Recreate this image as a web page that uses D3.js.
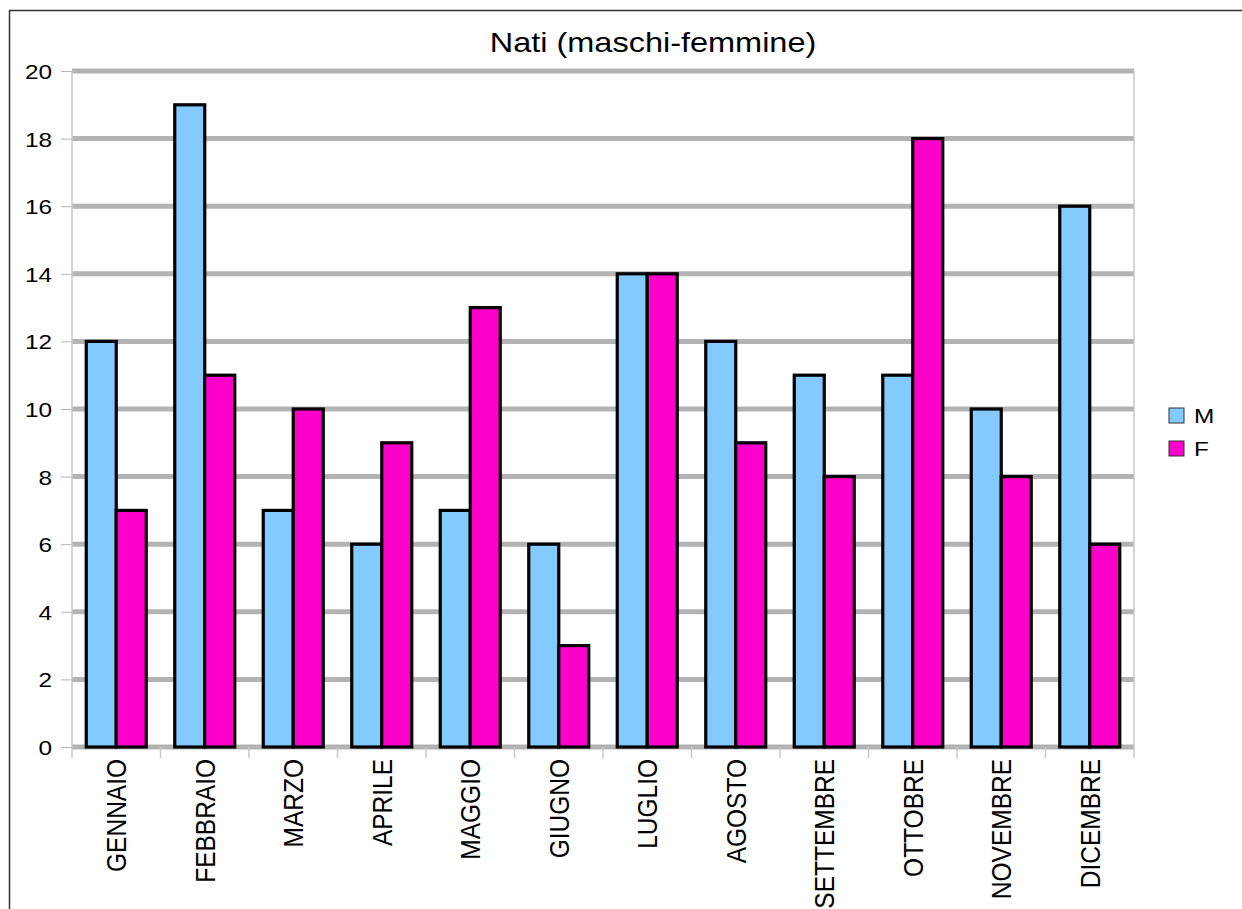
<!DOCTYPE html>
<html>
<head>
<meta charset="utf-8">
<script src="https://cdn.jsdelivr.net/npm/d3@7"></script>
<style>
  html, body { margin: 0; padding: 0; background: #fff; overflow: hidden; }
  svg { display: block; font-family: "Liberation Sans", Arial, sans-serif; }
</style>
</head>
<body>
<svg width="1242" height="909"></svg>
<script>
// dati del grafico
const mesi = ["GENNAIO", "FEBBRAIO", "MARZO", "APRILE", "MAGGIO", "GIUGNO",
              "LUGLIO", "AGOSTO", "SETTEMBRE", "OTTOBRE", "NOVEMBRE", "DICEMBRE"];
const maschi = [12, 19, 7, 6, 7, 6, 14, 12, 11, 11, 10, 16];
const femmine = [7, 11, 10, 9, 13, 3, 14, 9, 8, 18, 8, 6];
const serie = ["M", "F"];
const colori = ["#83caff", "#ff00cc"];
const ticksY = [0, 2, 4, 6, 8, 10, 12, 14, 16, 18, 20];
const titolo = "Nati (maschi-femmine)";

const sx = 1.16; // allargamento orizzontale del testo

const svg = d3.select("svg");

const area = { left: 72, right: 1134, top: 71, bottom: 747 };

// cornice esterna (solo lati sinistro e superiore visibili)
svg.append("path")
    .attr("d", "M9.5,909 L9.5,10.5 L1242,10.5")
    .attr("fill", "none")
    .attr("stroke", "#333")
    .attr("stroke-width", 1.5);

const scaleX = d3.scaleBand()
    .domain(mesi)
    .range([area.left, area.right])
    .paddingInner(0.322)
    .paddingOuter(0.161);

const scaleSub = d3.scaleBand()
    .domain(serie)
    .range([0, scaleX.bandwidth()]);

const scaleY = d3.scaleLinear()
    .domain([0, 20])
    .range([area.bottom, area.top]);

// griglia
svg.append("g")
    .selectAll("line")
    .data(ticksY)
    .enter()
    .append("line")
    .attr("x1", area.left).attr("x2", area.right)
    .attr("y1", d => scaleY(d)).attr("y2", d => scaleY(d))
    .attr("stroke", "#b3b3b3")
    .attr("stroke-width", 5);

// asse Y
const axisY = d3.axisLeft(scaleY).tickValues(ticksY).tickSize(11).tickPadding(9);
const gY = svg.append("g")
    .attr("transform", `translate(${area.left},0)`)
    .call(axisY);
gY.select(".domain").remove();
gY.selectAll("line").attr("stroke", "#b3b3b3");
gY.selectAll("text")
    .attr("font-size", 21)
    .attr("fill", "#000")
    .attr("dy", "0.36em")
    .attr("transform", function () {
        const x = +d3.select(this).attr("x");
        return `translate(${x * (1 - sx)},0) scale(${sx},1)`;
    });

// linee verticali dell'area
svg.append("line")
    .attr("x1", area.left).attr("x2", area.left)
    .attr("y1", area.top).attr("y2", area.bottom + 11)
    .attr("stroke", "#c8c8c8").attr("stroke-width", 1.5);
svg.append("line")
    .attr("x1", area.right).attr("x2", area.right)
    .attr("y1", area.top).attr("y2", area.bottom + 11)
    .attr("stroke", "#c8c8c8").attr("stroke-width", 1.5);

// tacche asse X ai confini delle categorie
const step = scaleX.step();
svg.append("g")
    .selectAll("line")
    .data(mesi.slice(1))
    .enter()
    .append("line")
    .attr("x1", (d, i) => area.left + (i + 1) * step)
    .attr("x2", (d, i) => area.left + (i + 1) * step)
    .attr("y1", area.bottom).attr("y2", area.bottom + 11)
    .attr("stroke", "#c8c8c8").attr("stroke-width", 1.5);

// barre
const dati = mesi.map((m, i) => ({ mese: m, valori: [maschi[i], femmine[i]] }));
const gruppi = svg.append("g")
    .selectAll("g")
    .data(dati)
    .enter()
    .append("g")
    .attr("transform", d => `translate(${scaleX(d.mese)},0)`);

gruppi.selectAll("rect")
    .data(d => d.valori.map((v, j) => ({ serie: serie[j], v: v, c: colori[j] })))
    .enter()
    .append("rect")
    .attr("x", d => scaleSub(d.serie))
    .attr("y", d => scaleY(d.v))
    .attr("width", scaleSub.bandwidth())
    .attr("height", d => scaleY(0) - scaleY(d.v))
    .attr("fill", d => d.c)
    .attr("stroke", "#000")
    .attr("stroke-width", 3.2)
    .attr("stroke-linejoin", "miter");

// etichette categorie (verticali)
svg.append("g")
    .selectAll("text")
    .data(mesi)
    .enter()
    .append("text")
    .attr("transform", d => `translate(${scaleX(d) + scaleX.bandwidth() / 2},${area.bottom + 12}) scale(${sx},1) rotate(-90)`)
    .attr("text-anchor", "end")
    .attr("dy", "0.35em")
    .attr("font-size", 24.5)
    .attr("fill", "#000")
    .text(d => d);

// titolo
svg.append("text")
    .attr("transform", `translate(653,52) scale(${sx},1)`)
    .attr("text-anchor", "middle")
    .attr("font-size", 28)
    .attr("fill", "#000")
    .text(titolo);

// legenda
const legenda = svg.append("g")
    .selectAll("g")
    .data(serie)
    .enter()
    .append("g")
    .attr("transform", (d, i) => `translate(1169,${408 + i * 33})`);
legenda.append("rect")
    .attr("width", 15).attr("height", 15)
    .attr("fill", (d, i) => colori[i])
    .attr("stroke", "#333").attr("stroke-width", 1);
legenda.append("text")
    .attr("transform", `translate(25,15) scale(${sx},1)`)
    .attr("font-size", 21)
    .attr("fill", "#000")
    .text(d => d);
</script>
</body>
</html>
